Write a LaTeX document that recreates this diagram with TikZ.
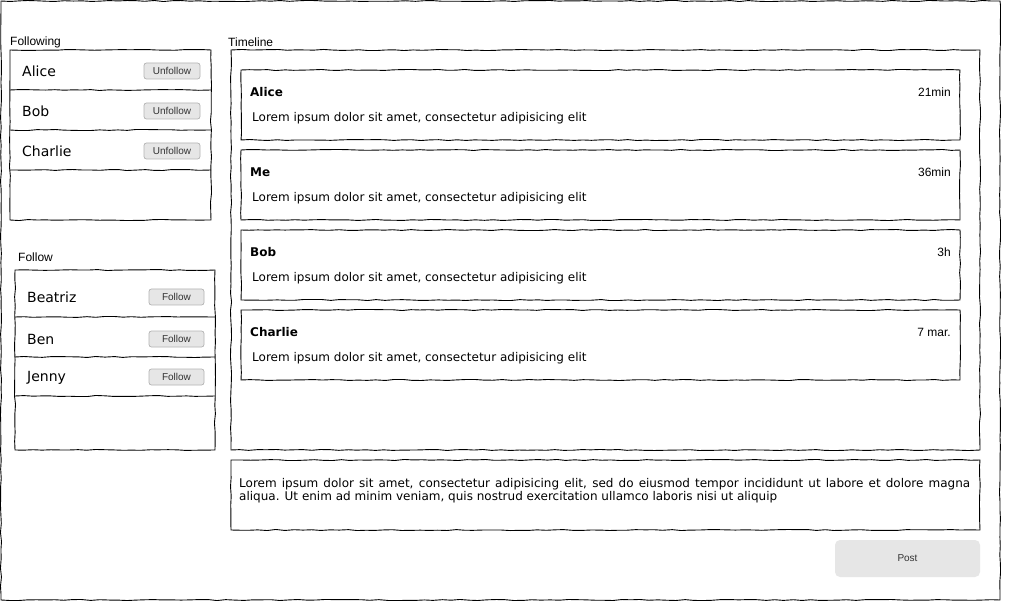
\documentclass[tikz,border=0pt]{standalone}
\usepackage{fontspec}
\setmainfont{DejaVu Sans}
\newfontfamily\labfont{Liberation Sans}
\usetikzlibrary{decorations.pathmorphing}
\definecolor{btnfill}{HTML}{E6E6E6}
\definecolor{btnline}{HTML}{B3B3B3}
\definecolor{btntext}{HTML}{333333}
\begin{document}
\begin{tikzpicture}[x=1pt,y=-1pt,
  sketch/.style={draw=black, line width=0.9pt, decorate,
    decoration={random steps, segment length=9pt, amplitude=0.55pt}},
  caption/.style={anchor=west, inner sep=0pt, yshift=-1pt, font=\labfont\fontsize{12}{14}\selectfont},
  person/.style={anchor=west, inner sep=0pt, yshift=-0.5pt, font=\fontsize{14}{16}\selectfont},
  smallbtn/.style={draw=btnline, fill=btnfill, rounded corners=2.5pt, line width=0.7pt,
    minimum height=16pt, inner sep=0pt, text=btntext, font=\labfont\fontsize{10}{12}\selectfont},
  unfbtn/.style={smallbtn, minimum width=56pt},
  folbtn/.style={smallbtn, minimum width=55pt},
  author/.style={anchor=west, inner sep=0pt, yshift=-1pt, font=\bfseries\fontsize{12}{14}\selectfont},
  body/.style={anchor=west, inner sep=0pt, yshift=-1pt, font=\fontsize{12}{14}\selectfont},
  stamp/.style={anchor=east, inner sep=0pt, yshift=-1pt, font=\labfont\fontsize{12}{14}\selectfont},
  bigbtn/.style={fill=btnfill, rounded corners=5pt, minimum width=145pt, minimum height=37pt, inner sep=0pt,
    text height=5.2pt, text depth=0pt, text=btntext, font=\labfont\fontsize{10}{12}\selectfont},
  ]
\pgfmathsetseed{11}
\useasboundingbox[fill=white] (0,0) rectangle (1011,601);
% outer frame
\draw[sketch] (1,1) rectangle (1000,600);

% Following
\node[caption] (followinglbl) at (10,41) {Following};
\draw[sketch] (10,50) rectangle (211,220);
\draw[sketch] (10,90) -- (211,90);
\draw[sketch] (10,130) -- (211,130);
\draw[sketch] (10,170) -- (211,170);
\node[person] (alice) at (22,71) {Alice};
\node[person] (bob) at (22,111) {Bob};
\node[person] (charlie) at (22,151) {Charlie};
\node[unfbtn] (unf1) at (172,71) {Unfollow};
\node[unfbtn] (unf2) at (172,111) {Unfollow};
\node[unfbtn] (unf3) at (172,151) {Unfollow};

% Follow
\node[caption] (followlbl) at (18,256) {Follow};
\draw[sketch] (15,270) rectangle (215,450);
\draw[sketch] (15,317) -- (215,317);
\draw[sketch] (15,357) -- (215,357);
\draw[sketch] (15,396) -- (215,396);
\node[person] (beatriz) at (27,297) {Beatriz};
\node[person] (ben) at (27,339) {Ben};
\node[person] (jenny) at (27,377.5) {Jenny};
\node[folbtn] (fol1) at (176.5,297) {Follow};
\node[folbtn] (fol2) at (176.5,339) {Follow};
\node[folbtn] (fol3) at (176.5,377) {Follow};

% Timeline
\node[caption] (timelinelbl) at (228,41) {Timeline};
\draw[sketch] (231,50) rectangle (980,450);
\foreach \i/\who/\when in {0/Alice/21min, 1/Me/36min, 2/Bob/3h, 3/Charlie/7 mar.}{
  \draw[sketch] (241,70+80*\i) rectangle (960,140+80*\i);
  \node[author] (author\i) at (250,91+80*\i) {\who};
  \node[stamp] (time\i) at (951,91+80*\i) {\when};
  \node[body] (text\i) at (252,117+80*\i) {Lorem ipsum dolor sit amet, consectetur adipisicing elit};
}

% compose area
\draw[sketch] (231,460) rectangle (980,530);
\node[body] (compose1) at (239,483) {\makebox[731pt][s]{Lorem ipsum dolor sit amet, consectetur adipisicing elit, sed do eiusmod tempor incididunt ut labore et dolore magna}};
\node[body] (compose2) at (239,496.5) {aliqua. Ut enim ad minim veniam, quis nostrud exercitation ullamco laboris nisi ut aliquip};

% Post button
\node[bigbtn] (post) at (907.5,558.5) {Post};
\end{tikzpicture}
\end{document}
